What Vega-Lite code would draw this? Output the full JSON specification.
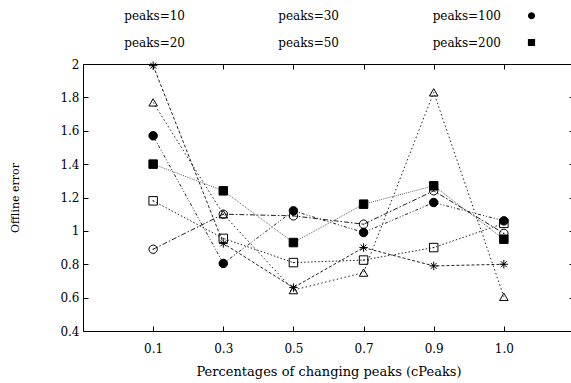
{
  "$schema": "https://vega.github.io/schema/vega-lite/v6.json",
  "autosize": "none",
  "padding": {"left": 83, "top": 64, "right": 0, "bottom": 52},
  "width": 491,
  "height": 267,
  "background": "white",
  "config": {
    "font": "DejaVu Serif",
    "view": {"stroke": "black", "strokeWidth": 1},
    "legend": {
      "title": null, "orient": "none", "legendX": 112, "legendY": -69,
      "direction": "horizontal", "columns": 3, "columnPadding": 40, "rowPadding": -15,
      "symbolSize": 1600, "symbolOpacity": 1, "symbolStrokeWidth": 1, "symbolStrokeColor": "black",
      "labelAlign": "right", "labelOffset": -51, "labelFontSize": 12, "labelColor": "black",
      "labelFont": "DejaVu Serif"
    }
  },
  "data": {"values": [
    {"cPeaks": "0.1", "series": "peaks=10", "err": 1.77},
    {"cPeaks": "0.3", "series": "peaks=10", "err": 1.10},
    {"cPeaks": "0.5", "series": "peaks=10", "err": 0.645},
    {"cPeaks": "0.7", "series": "peaks=10", "err": 0.75},
    {"cPeaks": "0.9", "series": "peaks=10", "err": 1.83},
    {"cPeaks": "1.0", "series": "peaks=10", "err": 0.605},
    {"cPeaks": "0.1", "series": "peaks=20", "err": 1.99},
    {"cPeaks": "0.3", "series": "peaks=20", "err": 0.925},
    {"cPeaks": "0.5", "series": "peaks=20", "err": 0.66},
    {"cPeaks": "0.7", "series": "peaks=20", "err": 0.90},
    {"cPeaks": "0.9", "series": "peaks=20", "err": 0.79},
    {"cPeaks": "1.0", "series": "peaks=20", "err": 0.80},
    {"cPeaks": "0.1", "series": "peaks=30", "err": 1.18},
    {"cPeaks": "0.3", "series": "peaks=30", "err": 0.955},
    {"cPeaks": "0.5", "series": "peaks=30", "err": 0.81},
    {"cPeaks": "0.7", "series": "peaks=30", "err": 0.825},
    {"cPeaks": "0.9", "series": "peaks=30", "err": 0.90},
    {"cPeaks": "1.0", "series": "peaks=30", "err": 1.045},
    {"cPeaks": "0.1", "series": "peaks=50", "err": 0.89},
    {"cPeaks": "0.3", "series": "peaks=50", "err": 1.10},
    {"cPeaks": "0.5", "series": "peaks=50", "err": 1.09},
    {"cPeaks": "0.7", "series": "peaks=50", "err": 1.04},
    {"cPeaks": "0.9", "series": "peaks=50", "err": 1.24},
    {"cPeaks": "1.0", "series": "peaks=50", "err": 0.985},
    {"cPeaks": "0.1", "series": "peaks=100", "err": 1.57},
    {"cPeaks": "0.3", "series": "peaks=100", "err": 0.805},
    {"cPeaks": "0.5", "series": "peaks=100", "err": 1.12},
    {"cPeaks": "0.7", "series": "peaks=100", "err": 0.99},
    {"cPeaks": "0.9", "series": "peaks=100", "err": 1.17},
    {"cPeaks": "1.0", "series": "peaks=100", "err": 1.06},
    {"cPeaks": "0.1", "series": "peaks=200", "err": 1.40},
    {"cPeaks": "0.3", "series": "peaks=200", "err": 1.24},
    {"cPeaks": "0.5", "series": "peaks=200", "err": 0.93},
    {"cPeaks": "0.7", "series": "peaks=200", "err": 1.16},
    {"cPeaks": "0.9", "series": "peaks=200", "err": 1.27},
    {"cPeaks": "1.0", "series": "peaks=200", "err": 0.95}
  ]},
  "resolve": {
    "axis": {"x": "independent", "y": "independent"},
    "scale": {"shape": "independent", "fill": "independent"},
    "legend": {"shape": "independent", "fill": "independent"}
  },
  "layer": [
    {
      "mark": {"type": "line", "strokeWidth": 1},
      "encoding": {
        "x": {"field": "cPeaks", "type": "ordinal",
          "scale": {"type": "point", "padding": 1, "domain": ["0.1","0.3","0.5","0.7","0.9","1.0"]},
          "axis": {"orient": "bottom", "title": "Percentages of changing peaks (cPeaks)", "labelAngle": 0,
            "tickSize": -5, "tickColor": "black", "domain": false, "labelPadding": 17, "labelFontSize": 12,
            "labelColor": "black", "titleFontSize": 13, "titleFontWeight": "normal", "titleColor": "black", "titlePadding": 11}},
        "y": {"field": "err", "type": "quantitative",
          "scale": {"domain": [0.4, 2], "nice": false, "zero": false},
          "axis": {"orient": "left", "title": "Offline error", "values": [0.4,0.6,0.8,1,1.2,1.4,1.6,1.8,2], "format": "~g",
            "tickSize": -5, "tickColor": "black", "domain": false, "grid": false, "labelPadding": 9, "labelFontSize": 12,
            "labelColor": "black", "titleFontSize": 11, "titleFontWeight": "normal", "titleColor": "black", "titlePadding": 39}},
        "detail": {"field": "series"},
        "strokeDash": {"field": "series", "type": "nominal", "legend": null,
          "scale": {"domain": ["peaks=10","peaks=30","peaks=100","peaks=20","peaks=50","peaks=200"],
            "range": [[1.5,2.5],[1.5,2],[3,2,1,2,1,2],[3,2],[5,2,1.5,2],[1,1]]}},
        "color": {"field": "series", "type": "nominal", "legend": null,
          "scale": {"domain": ["peaks=10","peaks=30","peaks=100","peaks=20","peaks=50","peaks=200"],
            "range": ["#222","#222","#222","#222","#222","#666"]}}
      }
    },
    {
      "mark": {"type": "point", "size": 72, "strokeWidth": 1, "stroke": "black", "opacity": 1},
      "encoding": {
        "x": {"field": "cPeaks", "type": "ordinal",
          "axis": {"orient": "top", "labels": false, "title": null, "tickSize": -5, "tickColor": "black", "domain": false}},
        "y": {"field": "err", "type": "quantitative",
          "axis": {"orient": "right", "labels": false, "title": null, "values": [0.4,0.6,0.8,1,1.2,1.4,1.6,1.8,2],
            "tickSize": -5, "tickColor": "black", "domain": false, "grid": false}},
        "fill": {"field": "series", "type": "nominal", "legend": null,
          "scale": {"domain": ["peaks=10","peaks=30","peaks=100","peaks=20","peaks=50","peaks=200"],
            "range": ["transparent","transparent","black","transparent","transparent","black"]}},
        "shape": {"field": "series", "type": "nominal", "legend": null,
          "scale": {"domain": ["peaks=10","peaks=30","peaks=100","peaks=20","peaks=50","peaks=200"],
            "range": ["triangle-up",
              "M-1,-1H1V1H-1ZM-0.15,0H0.15",
              "circle",
              "M-1,0H1M0,-1V1M-0.7,-0.7L0.7,0.7M-0.7,0.7L0.7,-0.7",
              "M1,0L0.866,0.5L0.5,0.866L0,1L-0.5,0.866L-0.866,0.5L-1,0L-0.866,-0.5L-0.5,-0.866L0,-1L0.5,-0.866L0.866,-0.5ZM-0.15,0H0.15",
              "square"]}}
      }
    },
    {
      "transform": [{"filter": "false"}],
      "mark": {"type": "point", "size": 1600, "strokeWidth": 1},
      "encoding": {
        "x": {"field": "cPeaks", "type": "ordinal", "axis": null},
        "y": {"field": "err", "type": "quantitative", "axis": null},
        "stroke": {"field": "series", "type": "nominal",
          "scale": {"domain": ["peaks=10","peaks=30","peaks=100","peaks=20","peaks=50","peaks=200"],
            "range": ["black","black","black","black","black","#444"]}},
        "fill": {"field": "series", "type": "nominal",
          "scale": {"domain": ["peaks=10","peaks=30","peaks=100","peaks=20","peaks=50","peaks=200"],
            "range": ["transparent","transparent","black","transparent","transparent","black"]}},
        "shape": {"field": "series", "type": "nominal",
          "scale": {"domain": ["peaks=10","peaks=30","peaks=100","peaks=20","peaks=50","peaks=200"],
            "range": [
              "M-1,0H-0.925M-0.825,0H-0.75M-0.55,0H-0.475M-0.375,0H-0.3M0.3,0H0.375M0.475,0H0.55M0.75,0H0.825M0.925,0H1M0,-0.19L0.19,0.13L-0.19,0.13Z",
              "M-1,0H-0.95M-0.85,0H-0.8M-0.7,0H-0.65M-0.55,0H-0.5M-0.4,0H-0.35M0.35,0H0.4M0.5,0H0.55M0.65,0H0.7M0.8,0H0.85M0.95,0H1M-0.18,-0.18H0.18V0.18H-0.18ZM-0.03,0H0.03",
              "M-1,0H-0.85M-0.775,0H-0.725M-0.65,0H-0.6M-0.525,0H-0.375M-0.3,0H-0.25M0.25,0H0.3M0.375,0H0.525M0.6,0H0.65M0.725,0H0.775M0.85,0H1M0.18,0L0.156,0.09L0.09,0.156L0,0.18L-0.09,0.156L-0.156,0.09L-0.18,0L-0.156,-0.09L-0.09,-0.156L0,-0.18L0.09,-0.156L0.156,-0.09Z",
              "M-1,0H-0.85M-0.75,0H-0.6M-0.5,0H-0.35M0.35,0H0.5M0.6,0H0.75M0.85,0H1M-0.2,0H0.2M0,-0.2V0.2M-0.14,-0.14L0.14,0.14M-0.14,0.14L0.14,-0.14",
              "M-1,0H-0.8M-0.7,0H-0.625M-0.525,0H-0.325M0.325,0H0.525M0.625,0H0.7M0.8,0H1M0.18,0L0.156,0.09L0.09,0.156L0,0.18L-0.09,0.156L-0.156,0.09L-0.18,0L-0.156,-0.09L-0.09,-0.156L0,-0.18L0.09,-0.156L0.156,-0.09ZM-0.03,0H0.03",
              "M-1,0H-0.95M-0.9,0H-0.85M-0.8,0H-0.75M-0.7,0H-0.65M-0.6,0H-0.55M-0.5,0H-0.45M-0.4,0H-0.35M-0.3,0H-0.25M0.25,0H0.3M0.35,0H0.4M0.45,0H0.5M0.55,0H0.6M0.65,0H0.7M0.75,0H0.8M0.85,0H0.9M0.95,0H1M-0.18,-0.18H0.18V0.18H-0.18Z"
            ]}}
      }
    }
  ]
}
